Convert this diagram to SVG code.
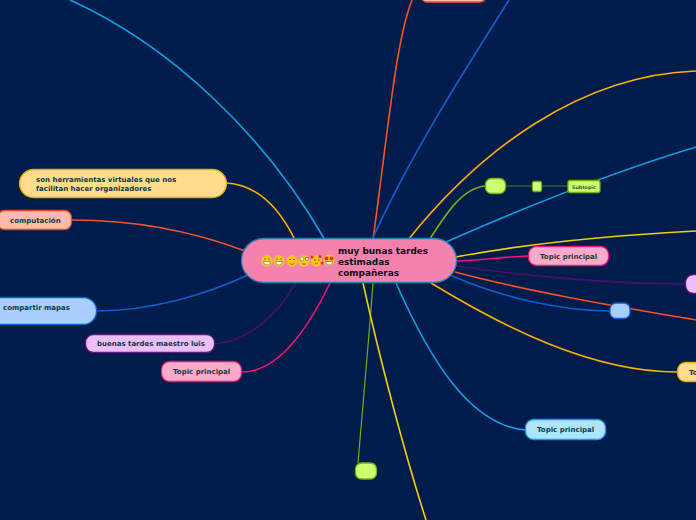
<svg xmlns="http://www.w3.org/2000/svg" width="696" height="520" viewBox="0 0 696 520">
<style>
text{font-family:"DejaVu Sans",sans-serif;font-weight:bold;font-size:7px;fill:#0f3a3f}
.m{font-size:8.900px;fill:#0a0a14}
.c{fill:none;stroke-width:1.6}
.n{stroke-width:1.3}
.f{fill:#ffc41f}
.e{fill:none;stroke:#6b4a10;stroke-width:.7}
</style>
<rect width="696" height="520" fill="#001c4a"/>
<g id="connectors">
<path class="c" stroke="#00a2e8" d="M70 0C170 45 265 135 325 240"/>
<path class="c" stroke="#ffb000" d="M227 183C255 185 278 205 295 240"/>
<path class="c" stroke="#f5522a" d="M72 220C140 220 195 232 245 251"/>
<path class="c" stroke="#0a5fd6" d="M97 311C150 311 205 295 248 275"/>
<path class="c" stroke="#4a0f70" d="M215 344C250 340 278 315 296 282"/>
<path class="c" stroke="#f01478" d="M242 372C280 372 310 325 331 281"/>
<path class="c" stroke="#f5522a" d="M412 0C396 40 388 130 373 240"/>
<path class="c" stroke="#0a5fd6" d="M509 0C465 70 410 155 372 240"/>
<path class="c" stroke="#ffb000" d="M408 240C480 150 580 75 696 71"/>
<path class="c" stroke="#70b010" d="M428 242C445 215 462 188 485 186"/>
<path stroke="#4a8010" fill="none" d="M506 186H568"/>
<path class="c" stroke="#00a2e8" d="M446 242C530 205 620 170 696 147"/>
<path class="c" stroke="#f0d000" d="M456 257C530 243 620 235 696 231"/>
<path class="c" stroke="#f01478" d="M456 261C480 260 505 257 528 256"/>
<path class="c" stroke="#4a0f70" d="M456 266C530 277 620 284 686 284"/>
<path class="c" stroke="#0a5fd6" d="M450 275C500 297 560 311 610 311"/>
<path class="c" stroke="#f5522a" d="M455 272C530 292 620 307 696 320"/>
<path class="c" stroke="#ffb000" d="M431 283C500 325 590 372 677 372"/>
<path class="c" stroke="#00a2e8" d="M396 283C430 360 470 425 525 430"/>
<path stroke="#70b010" stroke-width="1.200" fill="none" d="M373 283C368 350 362 415 358 463"/>
<path class="c" stroke="#f0d000" d="M363 283C380 360 405 455 426 520"/>
</g>
<g id="root">
<rect class="n" x="241.500" y="238.500" width="215" height="44" rx="22" fill="#f582ae" stroke="#1f7fb5"/>
<g id="emojis">
<circle class="f" cx="267" cy="261" r="5.700"/><circle class="f" cx="279" cy="261" r="5.700"/><circle class="f" cx="292" cy="261" r="5.700"/><circle class="f" cx="304" cy="261" r="5.700"/><circle class="f" cx="316.500" cy="261" r="5.700"/><circle class="f" cx="329" cy="260" r="5.700"/>
<path d="M263.500 261.500h7a3.500 3.500 0 0 1-7 0M275.500 261.500h7a3.500 3.500 0 0 1-7 0" fill="#fff" stroke="#6b4a10" stroke-width=".5"/>
<path class="e" d="M264 259h2M268 259h2M276 259h2M280 259h2M289 259.500h2M293 259.500h2M289.500 263a3 3 0 0 0 5 0M302 264h4"/>
<circle cx="302" cy="259" r="2" fill="#fff" stroke="#6b4a10" stroke-width=".5"/><circle cx="307" cy="259" r="1.600" fill="#fff" stroke="#6b4a10" stroke-width=".5"/>
<circle cx="312" cy="257" r="1.500" fill="#e8302a"/><circle cx="320" cy="256.500" r="1.500" fill="#e8302a"/><circle cx="322" cy="263" r="1.500" fill="#e8302a"/>
<path class="e" d="M314 260h2M318 260h2M315 263a2 2 0 0 0 3 0"/>
<circle cx="326.500" cy="258.500" r="2" fill="#e8302a"/><circle cx="331.500" cy="258.500" r="2" fill="#e8302a"/>
<path d="M325.500 261.500h7a3.500 3.500 0 0 1-7 0" fill="#fff" stroke="#6b4a10" stroke-width=".5"/>
</g>
<text class="m" x="338" y="254">muy bunas tardes</text>
<text class="m" x="338" y="265">estimadas</text>
<text class="m" x="338" y="276">compañeras</text>
</g>
<g id="n-herramientas"><rect class="n" x="19.500" y="169.500" width="207" height="28" rx="14" fill="#ffdd8a" stroke="#e8a800"/>
<text x="36" y="182">son herramientas virtuales que nos</text><text x="36" y="191">facilitan hacer organizadores</text></g>
<g id="n-computacion"><rect class="n" x="-2.500" y="210.500" width="74" height="19" rx="7" fill="#ffb9a8" stroke="#e04a30"/><text x="10" y="223">computación</text></g>
<g id="n-compartir"><rect class="n" x="-30" y="297.500" width="126.500" height="27" rx="13" fill="#a8cdff" stroke="#0a5fd6"/><text x="3" y="310">compartir mapas</text></g>
<g id="n-buenas"><rect class="n" x="85.500" y="334.500" width="129" height="18" rx="8" fill="#edbdff" stroke="#5a1a80"/><text x="97" y="346">buenas tardes maestro luis</text></g>
<g id="n-topic-left"><rect class="n" x="161.500" y="361.500" width="80" height="20" rx="8" fill="#ffaacb" stroke="#f01478"/><text x="173" y="374">Topic principal</text></g>
<g id="n-top"><rect class="n" x="420.500" y="-18" width="66" height="20" rx="7" fill="#ffb9a8" stroke="#f5522a"/></g>
<g id="n-green1"><rect class="n" x="485.500" y="178.500" width="20" height="15" rx="6" fill="#ceff70" stroke="#70b010"/></g>
<g id="n-green2"><rect class="n" x="532.500" y="181.500" width="9" height="10" rx="2" fill="#d8ff8a" stroke="#70b010"/></g>
<g id="n-subtopic"><rect class="n" x="568" y="180.500" width="32" height="12" rx="2" fill="#ceff70" stroke="#70b010"/><text x="572" y="189" style="font-size:4.800px;fill:#3a5a20">Subtopic</text></g>
<g id="n-topic-right"><rect class="n" x="528.500" y="246.500" width="80" height="19" rx="8" fill="#ffaacb" stroke="#f01478"/><text x="540" y="259">Topic principal</text></g>
<g id="n-purple"><rect class="n" x="685.500" y="274.500" width="30" height="19" rx="8" fill="#edbdff" stroke="#5a1a80"/></g>
<g id="n-blue"><rect class="n" x="610" y="303" width="20" height="15.500" rx="6" fill="#a8cdff" stroke="#0a5fd6"/></g>
<g id="n-orange-right"><rect class="n" x="677.500" y="362.500" width="60" height="19" rx="8" fill="#ffdd8a" stroke="#e8a800"/><text x="689" y="375">To</text></g>
<g id="n-topic-bottom"><rect class="n" x="525.500" y="419.500" width="80" height="20" rx="8" fill="#ade5ff" stroke="#00a2e8"/><text x="537" y="432">Topic principal</text></g>
<g id="n-green3"><rect class="n" x="355.500" y="463" width="21" height="16" rx="6" fill="#ceff70" stroke="#70b010"/></g>
</svg>
